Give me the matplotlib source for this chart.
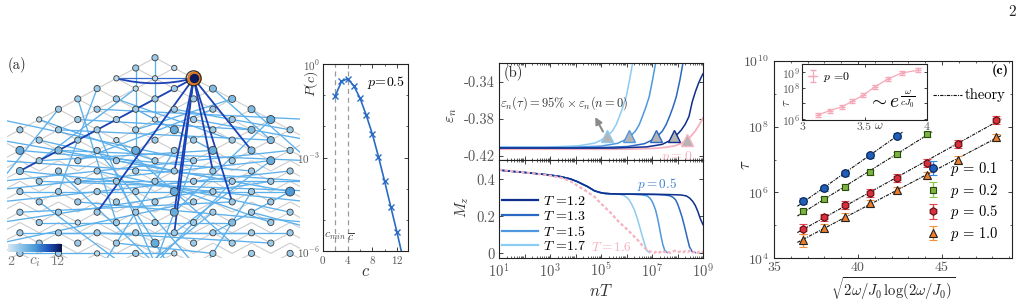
import numpy as np
import matplotlib
matplotlib.use("Agg")
import matplotlib.pyplot as plt
from matplotlib.colors import LinearSegmentedColormap, Normalize
from matplotlib.collections import LineCollection
from matplotlib.ticker import FixedLocator, NullFormatter
from matplotlib.path import Path
from matplotlib.patches import PathPatch
from matplotlib.lines import Line2D

plt.rcParams.update({
    "font.family": ["cmr10", "DejaVu Serif"],
    "mathtext.fontset": "cm",
    "axes.unicode_minus": False,
    "axes.formatter.use_mathtext": True,
    "axes.linewidth": 0.8,
    "axes.edgecolor": "#222222",
    "xtick.color": "#222222",
    "ytick.color": "#222222",
    "xtick.labelcolor": "#555555",
    "ytick.labelcolor": "#555555",
    "xtick.direction": "in",
    "ytick.direction": "in",
    "xtick.major.size": 3, "ytick.major.size": 3,
    "xtick.minor.size": 1.6, "ytick.minor.size": 1.6,
    "xtick.major.width": 0.6, "ytick.major.width": 0.6,
    "xtick.minor.width": 0.5, "ytick.minor.width": 0.5,
})

# ======================= DATA =======================
# (a) network on a rotated square lattice, nodes indexed (d, s) = (j-i, i+j)
ROW_DEGREES = [  # degree c_i of each node along a row (hex digit), d ascending
    "4", "43", "33C", "4345", "44445", "444445", "3443446", "44446454",
    "4434445", "65464654", "4444446", "54444444", "4444444", "44446447",
    "4444444", "44446444", "4344454", "44444444", "4446444", "44343444",
]
HUB = (2, 2)
HUB_LINKS = [(-7, 11), (-3, 15), (1, 11), (1, 15), (1, 17), (3, 11), (4, 14), (5, 9)]
HUB_ARC = (-2, 2)
LONG_LINKS = [
    (-8, 10, 8, 12), (-8, 12, 7, 9), (-9, 13, 6, 10), (-7, 11, 8, 14), (-8, 14, 7, 11),
    (-6, 12, 9, 13), (-7, 9, 5, 11), (-8, 8, 4, 12), (-5, 9, 8, 10), (-7, 13, 7, 13),
    (-8, 16, 6, 12), (-6, 10, 3, 9), (-4, 12, 8, 12), (-7, 15, 4, 14), (-3, 11, 7, 15),
    (-8, 6, 2, 10), (-6, 8, 1, 11), (-5, 7, 6, 8), (-4, 6, 5, 7), (-3, 5, 8, 6),
    (-1, 3, -6, 10), (-2, 4, 4, 8), (1, 5, 7, 7), (2, 6, 8, 8), (-1, 5, 3, 9),
    (3, 5, -4, 10), (-6, 6, 0, 10), (-1, 1, -1, 9), (0, 0, 0, 6), (-4, 4, -2, 16),
    (-3, 7, 0, 20), (-5, 11, 0, 20), (2, 10, 0, 20), (4, 12, 0, 20), (-2, 12, 1, 21),
    (3, 15, -1, 21), (-6, 14, -1, 21), (1, 9, -3, 21), (5, 13, 2, 22), (-3, 9, 2, 20),
    (-2, 8, 4, 18), (0, 12, 6, 16), (-6, 16, 4, 16), (-7, 17, 5, 17), (-5, 17, 7, 17),
    (-4, 14, 8, 16), (-7, 19, 1, 19), (-3, 17, 6, 18), (2, 14, -8, 18), (5, 15, 9, 17),
    (-2, 18, 3, 19), (6, 10, 1, 17), (7, 13, -2, 10), (7, 13, 3, 17), (6, 6, 1, 15),
    (4, 4, -1, 7), (5, 5, 8, 10), (3, 3, 6, 8), (-3, 3, -5, 13), (-5, 5, -8, 12),
]

# degree distribution P(c), p = 0.5
C_VALUES = [2, 3, 4, 5, 6, 7, 8, 9, 10, 11, 12, 13]
PC_LOG10 = [-1.02, -0.56, -0.47, -0.70, -1.09, -1.63, -2.24, -2.97, -3.76, -4.58, -5.39, -6.25]
C_MIN, C_MEAN = 2, 4

# (b) top: energy density eps_n vs log10(nT)
T_LABELS = ["1.2", "1.3", "1.5", "1.7"]
EPS_LOGX = {
    "1.7": [1, 2.8, 4.1, 4.75, 5.0, 5.25, 5.45, 5.6, 5.72, 5.85, 5.99, 6.12, 6.25, 6.35],
    "1.5": [1, 3.7, 5.0, 5.65, 5.9, 6.15, 6.35, 6.5, 6.62, 6.75, 6.89, 7.02, 7.15, 7.25],
    "1.3": [1, 4.8, 6.05, 6.7, 6.95, 7.2, 7.4, 7.55, 7.68, 7.81, 7.95, 8.09, 8.22, 8.32],
    "1.2": [1, 5.5, 6.8, 7.4, 7.7, 7.86, 8.0, 8.15, 8.3, 8.45, 8.58, 8.7, 8.82, 8.94, 9.0],
}
EPS_VAL = {
    "1.7": [-0.4105, -0.4105, -0.4091, -0.4062, -0.4030, -0.3985, -0.3930, -0.3860, -0.3776,
            -0.3680, -0.3561, -0.3382, -0.3185, -0.3000],
    "1.5": [-0.4108, -0.4108, -0.4094, -0.4064, -0.4032, -0.3988, -0.3932, -0.3862, -0.3778,
            -0.3682, -0.3563, -0.3384, -0.3187, -0.3020],
    "1.3": [-0.4112, -0.4112, -0.4098, -0.4068, -0.4036, -0.3990, -0.3935, -0.3865, -0.3780,
            -0.3685, -0.3565, -0.3388, -0.3190, -0.3030],
    "1.2": [-0.4115, -0.4115, -0.4102, -0.4075, -0.4035, -0.4000, -0.3965, -0.3920, -0.3860,
            -0.3775, -0.3615, -0.3510, -0.3420, -0.3346, -0.3315],
}
EPS_P0_LOGX = [1, 6.0, 7.1, 7.6, 7.9, 8.15, 8.37, 8.55, 8.7, 8.85, 9.0]
EPS_P0 = [-0.4127, -0.4127, -0.4118, -0.4105, -0.4090, -0.4065, -0.4027, -0.3980, -0.3930, -0.3865, -0.3790]
TAU_MARK_LOGX = {"1.7": 5.22, "1.5": 6.08, "1.3": 7.14, "1.2": 7.86}
TAU_MARK_EPS = -0.399
TAU_P0_LOGX, TAU_P0_EPS = 8.37, -0.4027

# (b) bottom: magnetisation M_z vs log10(nT)
MZ_EARLY_LOGX = [1.0, 1.5, 2.0, 2.5, 3.0, 3.43, 3.8, 4.08, 4.3, 4.48, 4.74, 4.95, 5.13, 5.35, 5.55]
MZ_EARLY = [0.450, 0.443, 0.437, 0.430, 0.423, 0.414, 0.402, 0.387, 0.372, 0.360, 0.338, 0.329,
            0.324, 0.322, 0.321]
MZ_TAIL_LOGX = {
    "1.7": [5.75, 5.9, 6.0, 6.1, 6.2, 6.31, 6.42, 6.52, 6.62, 6.72, 6.8, 6.9],
    "1.5": [5.8, 6.2, 6.6, 6.8, 6.92, 7.0, 7.07, 7.14, 7.21, 7.28, 7.35, 7.42, 7.5, 7.6],
    "1.3": [5.8, 6.5, 7.2, 7.5, 7.7, 7.82, 7.92, 8.0, 8.09, 8.18, 8.27, 8.37, 8.47, 8.57, 8.7],
    "1.2": [5.8, 6.5, 7.2, 7.8, 8.15, 8.35, 8.48, 8.6, 8.7, 8.8, 8.9, 9.0],
}
MZ_TAIL = {
    "1.7": [0.318, 0.312, 0.304, 0.290, 0.266, 0.234, 0.190, 0.142, 0.092, 0.046, 0.014, 0.004],
    "1.5": [0.320, 0.319, 0.316, 0.311, 0.298, 0.282, 0.260, 0.234, 0.195, 0.148, 0.095, 0.050, 0.015, 0.004],
    "1.3": [0.320, 0.319, 0.317, 0.315, 0.311, 0.303, 0.290, 0.268, 0.234, 0.195, 0.148, 0.090, 0.035, 0.010, 0.004],
    "1.2": [0.320, 0.320, 0.319, 0.317, 0.315, 0.310, 0.298, 0.280, 0.258, 0.225, 0.185, 0.155],
}
MZ_P0_LOGX = [1.0, 1.4, 1.8, 2.2, 2.6, 3.0, 3.43, 3.8, 4.08, 4.4, 4.74, 5.05, 5.4, 5.7, 6.05, 6.25,
              6.44, 6.6, 6.77, 6.9, 7.0, 7.1, 7.2, 7.3, 7.4, 7.5, 7.6, 7.7, 7.8, 7.9, 8.0, 8.1, 8.2,
              8.3, 8.4, 8.5, 8.6, 8.7, 8.8, 8.9, 9.0]
MZ_P0 = [0.452, 0.446, 0.440, 0.434, 0.428, 0.420, 0.408, 0.390, 0.365, 0.338, 0.306, 0.262, 0.216,
         0.170, 0.126, 0.098, 0.072, 0.045, 0.022, 0.010, 0.008, 0.003, 0.012, 0.004, 0.015, 0.006,
         0.011, 0.002, 0.009, 0.014, 0.005, 0.010, 0.003, 0.012, 0.007, 0.016, 0.004, 0.010, 0.002,
         0.013, 0.006]

# (c) thermalisation time tau vs sqrt(2w/J0 log(2w/J0))
X_C = [36.74, 37.98, 39.23, 40.71, 42.30, 44.09, 45.97, 48.20]
P_LABELS = ["0.1", "0.2", "0.5", "1.0"]
TAU_LOG = {
    "0.1": [5.74, 6.12, 6.58, 7.13, 7.72],
    "0.2": [5.43, 5.79, 6.17, 6.61, 7.16, 7.77],
    "0.5": [4.89, 5.24, 5.62, 5.99, 6.44, 6.90, 7.48, 8.19],
    "1.0": [4.55, 4.91, 5.26, 5.67, 6.07, 6.52, 7.00, 7.67],
}
TAU_ERR = {
    "0.1": [0.08, 0.08, 0.08, 0.08, 0.08],
    "0.2": [0.08, 0.08, 0.08, 0.08, 0.08, 0.08],
    "0.5": [0.14, 0.12, 0.12, 0.12, 0.12, 0.12, 0.12, 0.12],
    "1.0": [0.20, 0.12, 0.12, 0.10, 0.10, 0.10, 0.10, 0.10],
}
# inset: p = 0
OMEGA = [3.13, 3.22, 3.32, 3.40, 3.49, 3.58, 3.69, 3.80, 3.93]
TAU0_LOG = [6.27, 6.54, 6.79, 7.13, 7.52, 8.04, 8.56, 8.94, 9.10]
TAU0_ERR = [0.12, 0.12, 0.12, 0.12, 0.12, 0.12, 0.12, 0.12, 0.12]

# ======================= FIGURE =======================
W, H = 1023, 308
fig = plt.figure(figsize=(W / 100, H / 100), dpi=100)


def box(l, t, r, b):
    return [l / W, 1 - b / H, (r - l) / W, (b - t) / H]


def ftext(x, y, s, **kw):
    kw.setdefault("ha", "center")
    kw.setdefault("va", "center")
    return fig.text(x / W, 1 - y / H, s, **kw)


CMAP = LinearSegmentedColormap.from_list(
    "ci", ["#d8e9f4", "#8cc4e8", "#4a9ad8", "#1f55bb", "#08124f"])
NORM = Normalize(2, 12)

# ---------- (a) network ----------
axA = fig.add_axes(box(7, 40, 300, 258))
axA.set_xlim(7, 300)
axA.set_ylim(258, 40)
axA.axis("off")
X0, Y0, DX, DY = 155.0, 57.7, 19.3, 10.3


def P(d, s):
    return (X0 + DX * d, Y0 + DY * s)


gray = []
for s in range(0, 21):
    for d in range(-min(s, 9), min(s, 9) + 1, 2):
        for dd in (-1, 1):
            gray.append([P(d, s), P(d + dd, s + 1)])
axA.add_collection(LineCollection(gray, colors="#cdcdcd", linewidths=0.8, zorder=1))
axA.add_collection(LineCollection([[P(a, b), P(c, e)] for a, b, c, e in LONG_LINKS],
                                  colors="#5cb0ec", linewidths=0.95, zorder=2))
hub = P(*HUB)
axA.add_collection(LineCollection([[hub, P(d, s)] for d, s in HUB_LINKS],
                                  colors="#1b42b6", linewidths=1.3, zorder=3))
a = P(*HUB_ARC)
ctrl = ((a[0] + hub[0]) / 2, (a[1] + hub[1]) / 2 + 10)
axA.add_patch(PathPatch(Path([a, ctrl, hub], [Path.MOVETO, Path.CURVE3, Path.CURVE3]),
                        fc="none", ec="#1b42b6", lw=1.3, zorder=3))
axA.add_collection(LineCollection([[a, hub]], colors="#3a6cd0", linewidths=0.9, zorder=3))

nx, ny, nc = [], [], []
for s, row in enumerate(ROW_DEGREES):
    dmax = min(s, 7 if s % 2 else 6)
    for k, ch in enumerate(row):
        d = -dmax + 2 * k
        if (d, s) == HUB:
            continue
        x, y = P(d, s)
        nx.append(x); ny.append(y); nc.append(int(ch, 16))
nc = np.array(nc)
axA.scatter(nx, ny, s=((2.6 + 0.9 * nc) * 0.72) ** 2, c=nc, cmap=CMAP, norm=NORM,
            edgecolors="#3a3a3a", linewidths=0.6, zorder=4)
axA.scatter([hub[0]], [hub[1]], s=(12 * 0.72) ** 2, c="#0a1a5c", edgecolors="#e07a20",
            linewidths=1.8, zorder=5)
axA.scatter([hub[0]], [hub[1]], s=(15 * 0.72) ** 2, facecolors="none", edgecolors="#222222",
            linewidths=0.8, zorder=6)

axCB = fig.add_axes(box(8, 244, 62, 252))
axCB.imshow(np.linspace(2, 12, 256)[None, :], aspect="auto", cmap=CMAP, norm=NORM)
axCB.axis("off")
ftext(11, 262, "2", color="#777777", fontsize=10)
ftext(35, 262, "$c_i$", color="#777777", fontsize=11)
ftext(58, 262, "12", color="#777777", fontsize=10)
ftext(8, 65, "(a)", ha="left", fontsize=10.5, color="#222222")

# ---------- P(c) ----------
axP = fig.add_axes(box(323, 64, 408, 251))
axP.set_yscale("log")
axP.set_xlim(0, 13.8)
axP.set_ylim(1e-6, 1)
axP.axvline(C_MIN, color="#9a9a9a", lw=0.9, ls=(0, (4, 3)))
axP.axvline(C_MEAN, color="#9a9a9a", lw=0.9, ls=(0, (4, 3)))
axP.plot(C_VALUES, 10 ** np.array(PC_LOG10), color="#2a6cc4", lw=1.2, marker="x", ms=4, mew=1.0)
axP.xaxis.set_major_locator(FixedLocator([0, 4, 8, 12]))
axP.xaxis.set_minor_locator(FixedLocator([2, 6, 10]))
axP.yaxis.set_major_locator(FixedLocator([1e-6, 1e-3, 1]))
axP.yaxis.set_minor_locator(FixedLocator([1e-5, 1e-4, 1e-2, 1e-1]))
axP.set_yticklabels(["$10^{-6}$", "$10^{-3}$", "$10^{0}$"])
axP.yaxis.set_minor_formatter(NullFormatter())
axP.tick_params(which="both", top=True, right=True, labelsize=8, pad=2)
axP.text(1.9, 10 ** -5.55, "$c_{min}$", ha="center", va="center", fontsize=8.5, color="#444444")
axP.text(4.5, 10 ** -5.55, r"$\overline{c}$", ha="center", va="center", fontsize=8.5, color="#444444")
axP.text(0.97, 0.9, "$p\\!=\\!0.5$", transform=axP.transAxes, ha="right", va="center", fontsize=10)
ftext(311, 84, "$P(c)$", rotation=90, fontsize=10, color="#333333")
ftext(366, 271, "$c$", fontsize=12, color="#333333")

# ---------- (b) ----------
COLS = {"1.2": "#0e2f8c", "1.3": "#2b68c2", "1.5": "#4f97de", "1.7": "#8dcbf3"}
PINK = "#f6b2c0"


def log_x(ax, labels):
    ax.set_xscale("log")
    ax.set_xlim(1e1, 1e9)
    ax.xaxis.set_major_locator(FixedLocator([10.0 ** k for k in range(1, 10)]))
    ax.xaxis.set_minor_locator(FixedLocator([m * 10.0 ** k for k in range(1, 9) for m in range(2, 10)]))
    ax.xaxis.set_minor_formatter(NullFormatter())
    if labels:
        ax.set_xticklabels(["$10^{%d}$" % k if k % 2 else "" for k in range(1, 10)])
    else:
        ax.set_xticklabels([])
    ax.tick_params(which="both", top=True, right=True)


axB1 = fig.add_axes(box(499, 63, 703, 159.5))
log_x(axB1, False)
axB1.set_ylim(-0.4238, -0.3199)
axB1.yaxis.set_major_locator(FixedLocator([-0.42, -0.38, -0.34]))
axB1.set_yticklabels(["-0.42", "-0.38", "-0.34"])
axB1.tick_params(axis="y", labelsize=10.5, pad=3)
axB1.plot(10 ** np.array(EPS_P0_LOGX), EPS_P0, color=PINK, lw=1.3)
for T in ["1.7", "1.5", "1.3", "1.2"]:
    axB1.plot(10 ** np.array(EPS_LOGX[T]), EPS_VAL[T], color=COLS[T], lw=1.1)
for T in ["1.7", "1.5", "1.3", "1.2"]:
    axB1.plot([10 ** TAU_MARK_LOGX[T]], [TAU_MARK_EPS], marker="^", ms=8.5, mfc="#b4b4b4",
              mec=COLS[T], mew=1.0, zorder=5)
axB1.plot([10 ** TAU_P0_LOGX], [TAU_P0_EPS], marker="^", ms=8.5, mfc="#b4b4b4", mec=PINK,
          mew=1.0, zorder=5)
axB1.annotate("", xy=(10 ** 4.72, -0.3755), xytext=(10 ** 5.13, -0.3963),
              arrowprops=dict(arrowstyle="-|>", color="#8a8a8a", lw=1.5, mutation_scale=10))
axB1.text(0.32, 0.585, r"$\varepsilon_n(\tau)=95\%\times\varepsilon_n(n=0)$", transform=axB1.transAxes,
          ha="center", va="center", fontsize=9, color="#333333")
axB1.text(10 ** 7.95, -0.4212, "$p=0$", color=PINK, fontsize=10, ha="center", va="center",
          clip_on=True, zorder=6)
ftext(513, 73, "(b)", fontsize=10.5, color="#222222")
ftext(452, 115, r"$\varepsilon_n$", rotation=90, fontsize=11, color="#333333")

axB2 = fig.add_axes(box(499, 159.5, 703, 258))
log_x(axB2, True)
axB2.set_ylim(-0.0254, 0.507)
axB2.yaxis.set_major_locator(FixedLocator([0, 0.2, 0.4]))
axB2.set_yticklabels(["0", "0.2", "0.4"])
axB2.tick_params(axis="both", labelsize=10.5, pad=3)
for T in ["1.7", "1.5", "1.3", "1.2"]:
    lx = MZ_EARLY_LOGX + MZ_TAIL_LOGX[T]
    mz = MZ_EARLY + MZ_TAIL[T]
    axB2.plot(10 ** np.array(lx), mz, color=COLS[T], lw=1.1)
axB2.plot(10 ** np.array(MZ_P0_LOGX), MZ_P0, color=PINK, lw=1.6, ls=(0, (1.5, 1)))
leg_h = [Line2D([], [], color=COLS[T], lw=1.6) for T in T_LABELS]
axB2.legend(leg_h, ["$T$ =" + T for T in T_LABELS], loc="lower left", bbox_to_anchor=(0.0, 0.02),
            frameon=False, fontsize=10, handlelength=2.6, handletextpad=0.4, labelspacing=0.12,
            borderpad=0.1, borderaxespad=0.1)
axB2.text(10 ** 7.2, 0.372, "$p=0.5$", color="#3a80d0", fontsize=9.5, ha="center", va="center")
axB2.text(10 ** 5.4, 0.03, "$T=1.6$", color=PINK, fontsize=9.5, ha="center", va="center")
ftext(462, 207, "$M_z$", rotation=90, fontsize=11, color="#333333")
ftext(601, 291, "$nT$", fontsize=12, color="#333333")

# ---------- (c) ----------
axC = fig.add_axes(box(774, 60.7, 1012, 258.3))
axC.set_yscale("log")
axC.set_xlim(35, 49.17)
axC.set_ylim(1e4, 1e10)
axC.xaxis.set_major_locator(FixedLocator([35, 40, 45]))
axC.xaxis.set_minor_locator(FixedLocator(list(range(36, 50))))
axC.yaxis.set_major_locator(FixedLocator([1e4, 1e6, 1e8, 1e10]))
axC.yaxis.set_minor_locator(FixedLocator([1e5, 1e7, 1e9]))
axC.set_yticklabels(["$10^{4}$", "$10^{6}$", "$10^{8}$", "$10^{10}$"])
axC.set_xticklabels(["35", "40", "45"])
axC.yaxis.set_minor_formatter(NullFormatter())
axC.tick_params(which="both", top=True, right=True, labelsize=10)
axC.tick_params(axis="x", pad=2.5)

STY = {
    "0.1": dict(marker="o", ms=5.5, mfc="#1f5fb8", mec="#0a2050", ecolor="#3a8ae0"),
    "0.2": dict(marker="s", ms=5, mfc="#7cb342", mec="#2b4a10", ecolor="#8cc84a"),
    "0.5": dict(marker="h", ms=5.5, mfc="#d7303c", mec="#5a0a10", ecolor="#e8404c"),
    "1.0": dict(marker="^", ms=5.5, mfc="#f07d2a", mec="#222222", ecolor="#f5903a"),
}
cont = []
for p in P_LABELS:
    lt = np.array(TAU_LOG[p])
    er = np.array(TAU_ERR[p])
    x = np.array(X_C[:len(lt)])
    t = 10 ** lt
    fit = np.polyfit(x, lt, 1)
    xx = np.array([x[0] - 0.35, x[-1] + 0.35])
    axC.plot(xx, 10 ** np.polyval(fit, xx), color="#111111", lw=0.8, ls=(0, (3, 1, 1, 1)), zorder=1)
    st = STY[p]
    c = axC.errorbar(x, t, yerr=[t - 10 ** (lt - er), 10 ** (lt + er) - t], fmt=st["marker"],
                     ms=st["ms"], mfc=st["mfc"], mec=st["mec"], mew=0.8, ecolor=st["ecolor"],
                     elinewidth=1.0, capsize=3, capthick=1.5, zorder=3,
                     label="$p\\,=\\,%s$" % p)
    cont.append(c)
axC.legend(handles=cont, loc="lower right", bbox_to_anchor=(0.975, 0.04), frameon=False,
           fontsize=10.5, handlelength=1.0, handletextpad=0.7, labelspacing=0.25, borderpad=0)
axC.plot([0.668, 0.79], [0.826, 0.826], transform=axC.transAxes, color="#111111", lw=0.8,
         ls=(0, (3, 1, 1, 1)))
axC.text(0.80, 0.826, "theory", transform=axC.transAxes, ha="left", va="center", fontsize=10.5)
axC.text(0.985, 0.948, "(c)", transform=axC.transAxes, ha="right", va="center", fontsize=10,
         family="cmb10")
ftext(745, 165, r"$\tau$", rotation=90, fontsize=12, color="#333333")
ftext(893, 289, r"$\sqrt{2\omega/J_0\,\log(2\omega/J_0)}$", fontsize=10.5, color="#222222")

# inset
axI = fig.add_axes(box(802, 64, 927, 120))
axI.set_facecolor("white")
axI.set_yscale("log")
axI.set_xlim(3, 4)
axI.set_ylim(10 ** 5.95, 10 ** 9.5)
axI.xaxis.set_major_locator(FixedLocator([3, 3.5, 4]))
axI.set_xticklabels(["3", "3.5", "4"])
axI.yaxis.set_major_locator(FixedLocator([1e6, 1e7, 1e8, 1e9]))
axI.yaxis.set_minor_locator(FixedLocator([]))
axI.set_yticklabels(["$10^{6}$", "", "$10^{8}$", "$10^{9}$"])
axI.tick_params(which="both", top=True, right=True, labelsize=8.5, pad=1.5, length=2)
lt0 = np.array(TAU0_LOG)
er0 = np.array(TAU0_ERR)
t0 = 10 ** lt0
eb = axI.errorbar(OMEGA, t0, yerr=[t0 - 10 ** (lt0 - er0), 10 ** (lt0 + er0) - t0], color="#f5a8b8",
                  lw=0.9, marker="_", ms=5, capsize=2, capthick=1.0, elinewidth=0.9, label="$p$ =0")
axI.legend(handles=[eb], loc="upper left", frameon=False, fontsize=8.5, handlelength=0.8,
           handletextpad=0.5, borderpad=0.3, borderaxespad=0.2)
axI.text(0.72, 0.34, r"$\sim e^{\frac{\omega}{cJ_0}}$", transform=axI.transAxes, ha="center",
         va="center", fontsize=14)
ftext(787, 103, r"$\tau$", rotation=90, fontsize=9, color="#444444")
ftext(879, 126, r"$\omega$", fontsize=9, color="#444444")

ftext(1012, 12, "2", fontsize=11, color="#222222")

fig.savefig("out.png", dpi=100)
